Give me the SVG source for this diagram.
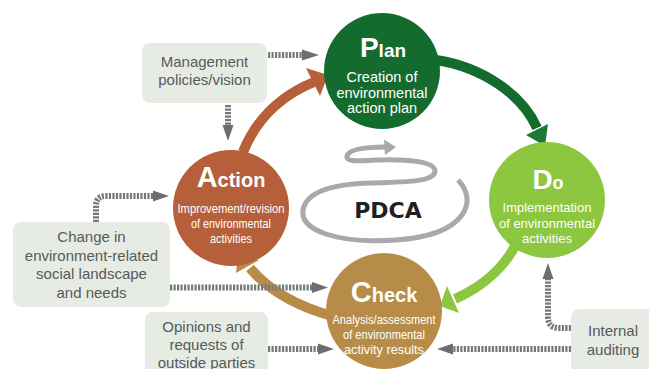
<svg xmlns="http://www.w3.org/2000/svg" width="649" height="369" viewBox="0 0 649 369">
<style>
.box{fill:#e6ece4}
.bt{font-family:"Liberation Sans",Arial,sans-serif;font-size:15px;fill:#58595b;text-anchor:middle}
.dash{fill:none;stroke:#77787b;stroke-width:6;stroke-dasharray:2.2 1.3}
.ah{fill:#6d6e71}
.ttl{font-family:"Liberation Sans",Arial,sans-serif;font-weight:bold;fill:#fff;text-anchor:middle}
.st{font-family:"Liberation Sans",Arial,sans-serif;font-size:13px;fill:#fff;text-anchor:middle}
.big{fill:none;stroke-width:10}
</style>
<rect width="649" height="369" fill="#fff"/>
<g id="connectors">
  <path class="big" stroke="#146b2e" d="M436,60 C482,67 522,94 537,128"/>
  <polygon fill="#1e7a33" points="545,146 526,135 548,124"/>
  <path class="big" stroke="#8dc63f" d="M516,244 C505,266 484,286 455,299"/>
  <polygon fill="#8dc63f" points="440,306 447,286 459,313"/>
  <path class="big" stroke="#b78c48" d="M332,316 C300,307 270,292 250,268"/>
  <polygon fill="#b78c48" points="238,255 236,273 259,260"/>
  <path class="big" stroke="#b5603a" stroke-width="11" d="M243,152 C256,120 280,96 314,82"/>
  <polygon fill="#b5603a" points="328,75 306,68 320,96"/>
  <path class="dash" d="M268,55 H303"/>
  <polygon class="ah" points="302,49.5 319,55 302,60.5"/>
  <path class="dash" d="M228,105 V125"/>
  <polygon class="ah" points="222.5,125 228,141 233.5,125"/>
  <path class="dash" d="M96,222 V206 Q96,196 106,196 H154"/>
  <polygon class="ah" points="153,190.5 169,196 153,201.5"/>
  <path class="dash" d="M170,287.5 H313"/>
  <polygon class="ah" points="312,282 328,287.5 312,293"/>
  <path class="dash" d="M268,349 H319"/>
  <polygon class="ah" points="318,343.5 334,349 318,354.5"/>
  <path class="dash" d="M571,349 H452"/>
  <polygon class="ah" points="453,343.5 437,349 453,354.5"/>
  <path class="dash" d="M571,328 H559 Q548,328 548,317 V278"/>
  <polygon class="ah" points="542.5,279 548,263 553.5,279"/>
</g>
<g id="pdca">
  <path fill="none" stroke="#a7a9ac" stroke-width="5" d="M458,180 C478,200 468,235 396,240 C336,244 300,230 303,210 C306,193 330,184 372,183 C412,182 435,181 435,171 C435,161 405,159 378,160 C356,161 346,162 347,156 C349,149 366,147 386,147"/>
  <polygon fill="#a7a9ac" points="396,147 384,139.5 385,155"/>
  <text x="388" y="218" font-family="DejaVu Sans,sans-serif" font-weight="bold" font-size="22" fill="#231f20" text-anchor="middle">PDCA</text>
</g>
<g id="plan">
  <circle cx="382" cy="71" r="58" fill="#146b2e"/>
  <text class="ttl" x="383" y="57"><tspan font-size="28">P</tspan><tspan font-size="19">lan</tspan></text>
  <text class="st" x="382" y="82" style="font-size:14.5px">Creation of</text>
  <text class="st" x="382" y="98" style="font-size:14.5px">environmental</text>
  <text class="st" x="382" y="113" style="font-size:14.5px">action plan</text>
</g>
<g id="do">
  <circle cx="547" cy="200" r="58" fill="#8dc63f"/>
  <text class="ttl" x="548" y="189"><tspan font-size="28">D</tspan><tspan font-size="18">o</tspan></text>
  <text class="st" x="547" y="212">Implementation</text>
  <text class="st" x="547" y="227.5">of environmental</text>
  <text class="st" x="547" y="243">activities</text>
</g>
<g id="action">
  <circle cx="231" cy="208" r="58" fill="#b5603a"/>
  <text class="ttl" x="231" y="187"><tspan font-size="29">A</tspan><tspan font-size="20">ction</tspan></text>
  <text class="st" x="231" y="213" textLength="107" lengthAdjust="spacingAndGlyphs">Improvement/revision</text>
  <text class="st" x="231" y="228" textLength="80" lengthAdjust="spacingAndGlyphs">of environmental</text>
  <text class="st" x="231" y="243" textLength="42" lengthAdjust="spacingAndGlyphs">activities</text>
</g>
<g id="check">
  <circle cx="384" cy="311" r="58" fill="#b78c48"/>
  <text class="ttl" x="384" y="302"><tspan font-size="29">C</tspan><tspan font-size="20">heck</tspan></text>
  <text class="st" x="384" y="324" textLength="103" lengthAdjust="spacingAndGlyphs">Analysis/assessment</text>
  <text class="st" x="384" y="339" textLength="82" lengthAdjust="spacingAndGlyphs">of environmental</text>
  <text class="st" x="384" y="354" textLength="80" lengthAdjust="spacingAndGlyphs">activity results</text>
</g>
<g id="management">
  <rect class="box" x="142" y="43" width="125" height="60" rx="8"/>
  <text class="bt" x="204.5" y="67">Management</text>
  <text class="bt" x="204.5" y="85">policies/vision</text>
</g>
<g id="change">
  <rect class="box" x="13" y="222" width="157" height="85" rx="8"/>
  <text class="bt" x="91.5" y="242">Change in</text>
  <text class="bt" x="91.5" y="261">environment-related</text>
  <text class="bt" x="91.5" y="279">social landscape</text>
  <text class="bt" x="91.5" y="298">and needs</text>
</g>
<g id="opinions">
  <rect class="box" x="145" y="312" width="123" height="70" rx="8"/>
  <text class="bt" x="206.5" y="332">Opinions and</text>
  <text class="bt" x="206.5" y="350">requests of</text>
  <text class="bt" x="206.5" y="368">outside parties</text>
</g>
<g id="internal">
  <rect class="box" x="571" y="309" width="90" height="70" rx="8"/>
  <text class="bt" x="613" y="336">Internal</text>
  <text class="bt" x="613" y="355">auditing</text>
</g>
</svg>
